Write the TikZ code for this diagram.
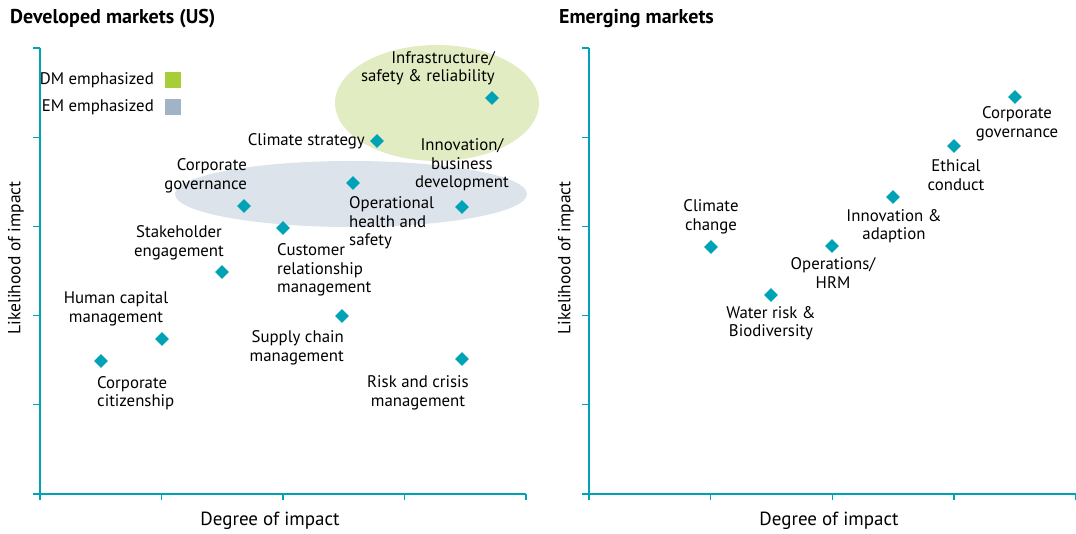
\documentclass[tikz,border=0pt]{standalone}
\usepackage{fontspec}
\setmainfont{PT Sans}
\usetikzlibrary{shapes.geometric}

\definecolor{axisteal}{HTML}{00A2B5}
\definecolor{dmgreen}{HTML}{A6CE39}
\definecolor{dmlight}{HTML}{E2ECC2}
\definecolor{emgrey}{HTML}{A0B4C6}
\definecolor{emlight}{HTML}{DDE3EA}

\begin{document}
\begin{tikzpicture}[x=1pt, y=-1pt,
    issue/.style={diamond, fill=axisteal, inner sep=0pt, minimum size=14pt},
    lbl/.style={font=\fontsize{16.8}{18.5}\selectfont, inner sep=0pt},
    heading/.style={font=\fontsize{20}{22}\selectfont\bfseries, inner sep=0pt, anchor=west},
    axlabel/.style={font=\fontsize{19}{21}\selectfont, inner sep=0pt},
    ylabel/.style={font=\fontsize{17.5}{20}\selectfont, inner sep=0pt, rotate=90},
    axisline/.style={axisteal, line width=2.6pt},
    tickline/.style={axisteal, line width=1.3pt},
    keybox/.style={minimum size=16pt, inner sep=0pt}]
  \useasboundingbox (0,0) rectangle (1076,534);

  % Highlight areas
  \fill[dmlight] (437,103) ellipse [x radius=102, y radius=58];
  \fill[emlight] (351,194) ellipse [x radius=176, y radius=33];

  % Axes
  \draw[axisline] (40,48) -- (40,494) -- (526,494);
  \draw[axisline] (589,48) -- (589,494) -- (1076,494);
  \foreach \k in {0,...,5} {
    \draw[tickline] (33,{48+89.2*\k}) -- (40,{48+89.2*\k});
    \draw[tickline] (582,{48+89.2*\k}) -- (589,{48+89.2*\k});
  }
  \foreach \k in {0,...,4} {
    \draw[tickline] ({40+121.5*\k},494) -- ({40+121.5*\k},500);
    \draw[tickline] ({589+121.7*\k},494) -- ({589+121.7*\k},500);
  }

  % Titles
  \node[heading] (dmtitle) at (10,19) {Developed markets (US)};
  \node[heading] (emtitle) at (559,19) {Emerging markets};
  \node[axlabel] (dmx) at (270,521) {Degree of impact};
  \node[axlabel] (emx) at (829,521) {Degree of impact};
  \node[ylabel] (dmy) at (16,258) {Likelihood of impact};
  \node[ylabel] (emy) at (566,258) {Likelihood of impact};

  % Legend
  \node[lbl, anchor=east] (dmkey) at (154,80) {DM emphasized};
  \node[keybox, fill=dmgreen] (dmbox) at (173,80) {};
  \node[lbl, anchor=east] (emkey) at (154,107) {EM emphasized};
  \node[keybox, fill=emgrey] (embox) at (173,107) {};

  % Developed markets
  \node[issue] (infra) at (492,98) {};
  \node[issue] (climS) at (377,141) {};
  \node[issue] (ophs) at (353,183) {};
  \node[issue] (innov) at (462,207) {};
  \node[issue] (corpg) at (244,206) {};
  \node[issue] (custr) at (283,228) {};
  \node[issue] (stake) at (222,272) {};
  \node[issue] (supply) at (342,316) {};
  \node[issue] (human) at (162,339) {};
  \node[issue] (citiz) at (101,361) {};
  \node[issue] (risk) at (462,359) {};

  \node[lbl, align=right, anchor=east] (infraL) at (495,68) {Infrastructure/\\safety \& reliability};
  \node[lbl, anchor=east] (climSL) at (365,141) {Climate strategy};
  \node[lbl, align=center] (innovL) at (462,165) {Innovation/\\business\\development};
  \node[lbl, align=right, anchor=east] (corpgL) at (247,176) {Corporate\\governance};
  \node[lbl, align=left, anchor=west] (ophsL) at (349,223) {Operational\\health and\\safety};
  \node[lbl, align=center] (stakeL) at (179,243) {Stakeholder\\engagement};
  \node[lbl, align=left, anchor=west] (custrL) at (277,270) {Customer\\relationship\\management};
  \node[lbl, align=center] (humanL) at (116,309) {Human capital\\management};
  \node[lbl, align=right, anchor=east] (supplyL) at (344,348) {Supply chain\\management};
  \node[lbl, align=left, anchor=west] (citizL) at (97,393) {Corporate\\citizenship};
  \node[lbl, align=center] (riskL) at (418,393) {Risk and crisis\\management};

  % Emerging markets
  \node[issue] (emcorpg) at (1015,97) {};
  \node[issue] (ethic) at (954,146) {};
  \node[issue] (eminnov) at (893,197) {};
  \node[issue] (climC) at (711,247) {};
  \node[issue] (oper) at (832,246) {};
  \node[issue] (water) at (771,295) {};

  \node[lbl, align=center] (emcorpgL) at (1017,124) {Corporate\\governance};
  \node[lbl, align=center] (ethicL) at (956,175) {Ethical\\conduct};
  \node[lbl, align=center] (eminnovL) at (894,226) {Innovation \&\\adaption};
  \node[lbl, align=center] (climCL) at (711,217) {Climate\\change};
  \node[lbl, align=center] (operL) at (833,273) {Operations/\\HRM};
  \node[lbl, align=center] (waterL) at (771,323) {Water risk \&\\Biodiversity};
\end{tikzpicture}
\end{document}
